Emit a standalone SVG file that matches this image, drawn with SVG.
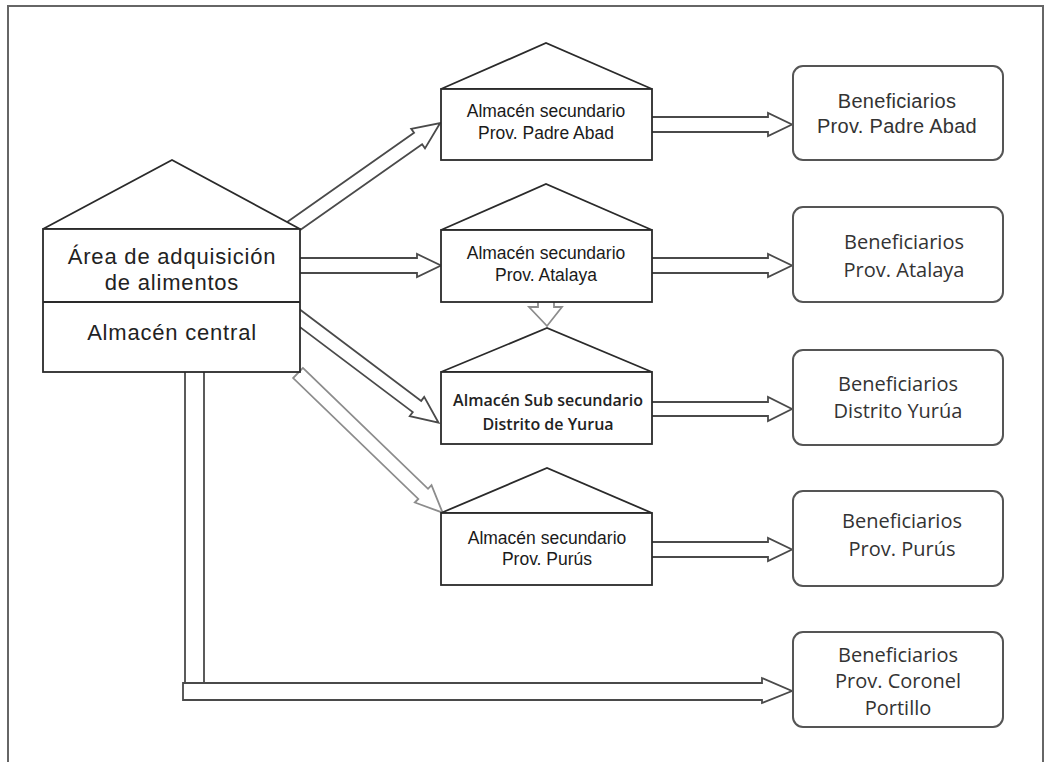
<svg xmlns="http://www.w3.org/2000/svg" width="1046" height="762" viewBox="0 0 1046 762">
<style>
.frame{fill:none;stroke:#666;stroke-width:2}
.node{fill:#fff;stroke:#2a2a2a;stroke-width:1.8}
.ben{fill:#fff;stroke:#555;stroke-width:2}
.arr{fill:#fff;stroke:#4a4a4a;stroke-width:1.8;stroke-linejoin:miter}
.arrg{fill:#fff;stroke:#8c8c8c;stroke-width:1.8}
.ln{fill:none;stroke:#4a4a4a;stroke-width:1.8}
.tc{font-family:"Liberation Sans",Arial,sans-serif;font-size:22px;letter-spacing:0.8px;fill:#222;text-anchor:middle}
.ts{font-family:"Liberation Sans",Arial,sans-serif;font-size:17.5px;fill:#1a1a1a;text-anchor:middle}
.tb{font-family:"Open Sans",sans-serif;font-weight:600;font-size:16px;fill:#222;text-anchor:middle}
.tn{font-family:"Open Sans",sans-serif;font-size:20px;fill:#333;text-anchor:middle}
.tl{font-family:"Liberation Sans",Arial,sans-serif;font-size:20px;letter-spacing:0.3px;fill:#333;text-anchor:middle}
</style>
<path class="frame" d="M8,762 V6 H1043 V762"/>
<g id="connectors">
<polygon class="arr" transform="translate(288,230) rotate(-35.1)" points="0,-7 159,-7 159,-12 186,0 159,12 159,7 0,7"/>
<path class="arr" d="M296,258 H417 V254 L441,265.5 L417,277 V273 H296 Z"/>
<polygon class="arr" transform="translate(290,310.8) rotate(37)" points="0,-7 159,-7 159,-12 186,0 159,12 159,7 0,7"/>
<polygon class="arrg" transform="translate(298,373) rotate(44)" points="0,-7 174,-7 174,-12 201,0 174,12 174,7 0,7"/>
<path class="arrg" d="M538,300 V307 H529 L547,326 L562,307 H554 V300"/>
<path class="arr" d="M648,117 H768 V113 L792,124.5 L768,136 V132 H648 Z"/>
<path class="arr" d="M648,258 H768 V254 L792,265.5 L768,277 V273 H648 Z"/>
<path class="arr" d="M648,402 H768 V397 L792,409 L768,421 V416 H648 Z"/>
<path class="arr" d="M648,542 H768 V538 L792,549.5 L768,561 V557 H648 Z"/>
<path class="ln" d="M185,372 V683 M204,372 V683"/>
<path class="arr" d="M183,683 H762 V678 L792,691 L762,703 V700 H183 Z"/>
</g>
<g id="central">
<polygon class="node" points="43,229 172,160 300,229"/>
<rect class="node" x="43" y="229" width="257" height="143"/>
<line class="node" x1="43" y1="302" x2="300" y2="302"/>
<text class="tc" x="172" y="264">Área de adquisición</text>
<text class="tc" x="172" y="290">de alimentos</text>
<text class="tc" x="172" y="340">Almacén central</text>
</g>
<g id="sec-padre-abad">
<polygon class="node" points="441,89 546,43 652,89"/>
<rect class="node" x="441" y="89" width="211" height="71"/>
<text class="ts" x="546" y="117">Almacén secundario</text>
<text class="ts" x="546" y="139">Prov. Padre Abad</text>
</g>
<g id="sec-atalaya">
<polygon class="node" points="441,230 546,184 652,230"/>
<rect class="node" x="441" y="230" width="211" height="72"/>
<text class="ts" x="546" y="259">Almacén secundario</text>
<text class="ts" x="546" y="281">Prov. Atalaya</text>
</g>
<g id="sub-yurua">
<polygon class="node" points="441,372 547,328 652,372"/>
<rect class="node" x="441" y="372" width="211" height="72"/>
<text class="tb" x="548" y="406">Almacén Sub secundario</text>
<text class="tb" x="548" y="430">Distrito de Yurua</text>
</g>
<g id="sec-purus">
<polygon class="node" points="441,513 547,468 652,513"/>
<rect class="node" x="441" y="513" width="211" height="72"/>
<text class="ts" x="547" y="544">Almacén secundario</text>
<text class="ts" x="547" y="565">Prov. Purús</text>
</g>
<g id="ben-padre-abad">
<rect class="ben" x="793" y="66" width="210" height="94" rx="10"/>
<text class="tl" x="897" y="108">Beneficiarios</text>
<text class="tl" x="897" y="133">Prov. Padre Abad</text>
</g>
<g id="ben-atalaya">
<rect class="ben" x="793" y="207" width="210" height="95" rx="10"/>
<text class="tn" x="904" y="249">Beneficiarios</text>
<text class="tn" x="904" y="277">Prov. Atalaya</text>
</g>
<g id="ben-yurua">
<rect class="ben" x="793" y="350" width="210" height="95" rx="10"/>
<text class="tn" x="898" y="391">Beneficiarios</text>
<text class="tn" x="898" y="418">Distrito Yurúa</text>
</g>
<g id="ben-purus">
<rect class="ben" x="793" y="491" width="210" height="95" rx="10"/>
<text class="tn" x="902" y="528">Beneficiarios</text>
<text class="tn" x="902" y="556">Prov. Purús</text>
</g>
<g id="ben-coronel-portillo">
<rect class="ben" x="793" y="632" width="210" height="95" rx="10"/>
<text class="tn" x="898" y="662">Beneficiarios</text>
<text class="tn" x="898" y="688">Prov. Coronel</text>
<text class="tn" x="898" y="715">Portillo</text>
</g>
</svg>
